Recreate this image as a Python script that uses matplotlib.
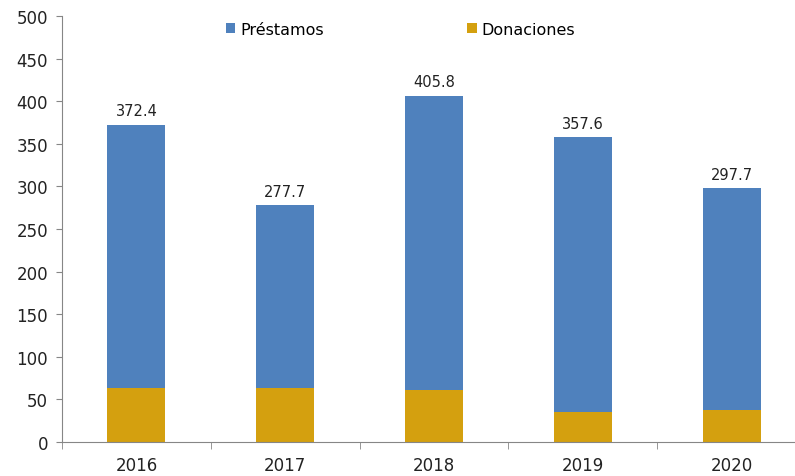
import matplotlib.pyplot as plt
import numpy as np

years = ['2016', '2017', '2018', '2019', '2020']
totals = [372.4, 277.7, 405.8, 357.6, 297.7]
donaciones = [63.0, 63.0, 61.4, 35.6, 37.9]
prestamos = [t - d for t, d in zip(totals, donaciones)]

blue = '#4F81BD'
gold = '#D4A00F'
gray = '#868686'

fig = plt.figure(figsize=(7.95, 4.77), dpi=100)
ax = fig.add_axes([62/795, 1-443/477, 744/795, (443-17)/477])

x = np.arange(len(years))
width = 0.39
ax.bar(x, donaciones, width=width, color=gold, label='Donaciones', zorder=2)
ax.bar(x, prestamos, width=width, bottom=donaciones, color=blue, label='Préstamos', zorder=2)

for xi, t in zip(x, totals):
    ax.text(xi, t + 8, f'{t:.1f}', ha='center', va='bottom', fontsize=10.5, color='#222222')

ax.set_ylim(0, 500)
ax.set_xlim(-0.5, 4.5)
ax.set_yticks(np.arange(0, 501, 50))
ax.tick_params(axis='y', labelsize=12, length=4, color=gray, labelcolor='#222222', pad=6)
ax.set_xticks(x)
ax.set_xticklabels(years)
ax.set_xticks(np.arange(-0.5, 4.6, 1), minor=True)
ax.tick_params(axis='x', which='major', length=0, labelsize=12, labelcolor='#222222', pad=10)
ax.tick_params(axis='x', which='minor', length=5, color=gray)

for s in ['top', 'right']:
    ax.spines[s].set_visible(False)
ax.spines['left'].set_color(gray)
ax.spines['bottom'].set_color(gray)

handles, labels = ax.get_legend_handles_labels()
leg = ax.legend(handles[::-1], labels[::-1], loc='upper center', bbox_to_anchor=(0.455, 1.02),
                ncol=2, frameon=False, fontsize=11.5, handlelength=0.6, handleheight=0.6,
                handletextpad=0.3, columnspacing=9)

plt.savefig('out.png', dpi=100)
